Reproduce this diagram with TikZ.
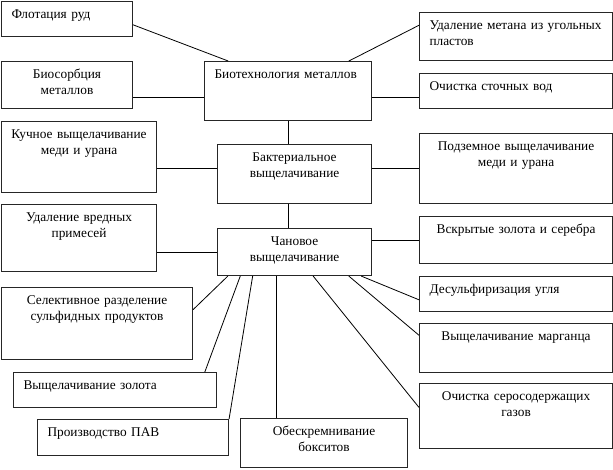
\documentclass[tikz,border=0pt]{standalone}
\usepackage{fontspec}
\setmainfont{Liberation Serif}
\usetikzlibrary{calc}

\tikzset{
  cellbase/.style 2 args={draw=black!85, line width=0.8pt, anchor=north west, inner ysep=0pt,
    minimum width=#1*0.75pt, text height=12.5pt, text depth=#2*0.75pt-12.5pt,
    font=\fontsize{10}{12}\selectfont},
  lcell/.style 2 args={cellbase={#1}{#2}, inner xsep=7.5pt, text width=#1*0.75pt-15pt, align=left},
  ccell/.style 2 args={cellbase={#1}{#2}, inner xsep=2pt, text width=#1*0.75pt-4pt, align=center},
  link/.style={draw=black, line width=0.6pt}
}

\begin{document}
\begin{tikzpicture}[x=0.75pt, y=-0.75pt]
\useasboundingbox (0,0) rectangle (613,469);

% left column
\node[lcell={131}{35}] (flot) at (1,1) {Флотация руд};
\node[ccell={131}{47}] (biosorb) at (1,61) {Биосорбция\\металлов};
\node[ccell={155}{71}] (kuch) at (1,121) {Кучное выщелачивание\\меди и урана};
\node[ccell={155}{67}] (vred) at (1,204) {Удаление вредных\\примесей};
\node[ccell={191}{72}] (selekt) at (1,287) {Селективное разделение\\сульфидных продуктов};
\node[lcell={203}{35}] (zoloto) at (13,372) {Выщелачивание золота};
\node[lcell={191}{36}] (pav) at (37,419) {Производство ПАВ};

% middle column
\node[lcell={167}{59}] (biotech) at (204,61) {Биотехнология металлов};
\node[ccell={154}{59}] (bakt) at (217,144) {Бактериальное\\выщелачивание};
\node[ccell={154}{47}] (chan) at (217,228) {Чановое\\выщелачивание};
\node[ccell={167}{49}] (boksit) at (240,418) {Обескремнивание\\бокситов};

% right column
\node[lcell={193}{48}] (metan) at (419,12) {Удаление метана из угольных пластов};
\node[lcell={193}{35}] (stoch) at (419,73) {Очистка сточных вод};
\node[ccell={193}{70}] (podzem) at (419,133) {Подземное выщелачивание\\меди и урана};
\node[ccell={193}{47}] (vskr) at (419,216) {Вскрытые золота и серебра};
\node[lcell={193}{35}] (desulf) at (419,276) {Десульфиризация угля};
\node[ccell={193}{49}] (marg) at (419,323) {Выщелачивание марганца};
\node[ccell={193}{65}] (gaz) at (419,383) {Очистка серосодержащих\\газов};

% links of the top box
\draw[link] ($(flot.north east)!0.66!(flot.south east)$) -- ($(biotech.north west)!0.144!(biotech.north east)$);
\draw[link] ($(biotech.north west)!0.862!(biotech.north east)$) -- ($(metan.north west)!0.27!(metan.south west)$);
\draw[link] ($(biotech.north west)!0.61!(biotech.south west)$) coordinate (rowa) -- (rowa -| biosorb.east);
\draw[link] (rowa -| biotech.east) -- (rowa -| stoch.west);
\draw[link] (biotech.south) -- (biotech.south |- bakt.north);

% links of the bacterial box
\draw[link] ($(bakt.north west)!0.41!(bakt.south west)$) coordinate (rowb) -- (rowb -| kuch.east);
\draw[link] (rowb -| bakt.east) -- (rowb -| podzem.west);
\draw[link] (biotech.south |- bakt.south) -- (biotech.south |- chan.north);

% links of the tank box
\draw[link] (chan.west) -- (chan.west -| vred.east);
\draw[link] (vskr.west) -- (vskr.west -| chan.east);
\draw[link] ($(chan.south west)!0.93!(chan.south east)$) -- ($(desulf.north west)!0.66!(desulf.south west)$);
\draw[link] ($(chan.south west)!0.85!(chan.south east)$) -- ($(marg.north west)!0.245!(marg.south west)$);
\draw[link] ($(chan.south west)!0.62!(chan.south east)$) -- ($(gaz.north west)!0.37!(gaz.south west)$);
\draw[link] ($(chan.south west)!0.383!(chan.south east)$) coordinate (colb) -- (colb |- boksit.north);
\draw[link] ($(chan.south west)!0.07!(chan.south east)$) -- ($(selekt.north east)!0.31!(selekt.south east)$);
\draw[link] ($(chan.south west)!0.15!(chan.south east)$) -- ($(zoloto.north west)!0.94!(zoloto.north east)$);
\draw[link] ($(chan.south west)!0.23!(chan.south east)$) -- (pav.north east);

\end{tikzpicture}
\end{document}
